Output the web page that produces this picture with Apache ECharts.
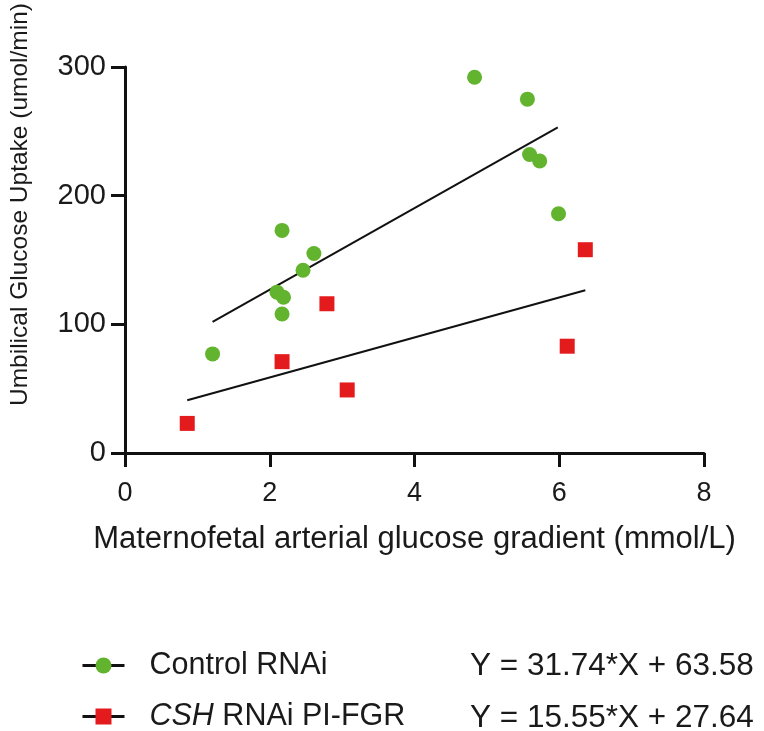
<!DOCTYPE html>
<html>
<head>
<meta charset="utf-8">
<script src="https://cdn.jsdelivr.net/npm/echarts@6/dist/echarts.min.js"></script>
<style>
html,body{margin:0;padding:0;background:#fff;}
#chart{width:764px;height:731px;}
</style>
</head>
<body>
<div id="chart"></div>
<script>
// Data
const controlX = [1.21, 2.17, 2.61, 2.46, 2.10, 2.19, 2.17, 4.83, 5.56, 5.59, 5.73, 5.99];
const controlY = [77, 173, 155, 142, 125, 121, 108, 292, 275, 232, 227, 186];
const cshX = [0.86, 2.17, 2.79, 3.07, 6.36, 6.11];
const cshY = [23, 71, 116, 49, 158, 83];
// Regression line endpoints as drawn
const controlFitX = [1.21, 5.98];
const controlFitY = [102, 253];
const cshFitX = [0.86, 6.36];
const cshFitY = [41, 126.5];
// Legend texts
const seriesNames = ['Control RNAi', 'CSH RNAi PI-FGR'];
const equations = ['Y = 31.74*X + 63.58', 'Y = 15.55*X + 27.64'];
const xTicks = [0, 2, 4, 6, 8];
const yTicks = [0, 100, 200, 300];

const FONT = 'Liberation Sans, Arial, sans-serif';
const GREEN = '#62b32e';
const RED = '#e41b1d';
const TXT = '#1a1a1a';

const zip = (a, b) => a.map((v, i) => [v, b[i]]);

const chart = echarts.init(document.getElementById('chart'));
chart.setOption({
  animation: false,
  backgroundColor: '#fff',
  textStyle: { fontFamily: FONT },
  grid: { left: 123, right: 60, top: 64, bottom: 278, containLabel: false },
  xAxis: {
    type: 'value', min: xTicks[0], max: xTicks[xTicks.length - 1], interval: 2,
    name: 'Maternofetal arterial glucose gradient (mmol/L)',
    nameLocation: 'middle', nameGap: 71,
    nameTextStyle: { fontSize: 31, color: TXT, fontFamily: FONT },
    axisLine: { lineStyle: { color: '#111', width: 3 } },
    axisTick: { length: 14, lineStyle: { color: '#111', width: 3 } },
    axisLabel: { fontSize: 27, color: TXT, margin: 27, fontFamily: FONT },
    splitLine: { show: false }
  },
  yAxis: {
    type: 'value', min: yTicks[0], max: yTicks[yTicks.length - 1], interval: 100,
    name: 'Umbilical Glucose Uptake (umol/min)',
    nameLocation: 'middle', nameGap: 92, nameRotate: 90,
    nameTextStyle: { fontSize: 24.5, color: TXT, fontFamily: FONT, padding: [0, 0, 0, 111] },
    axisLine: { show: true, lineStyle: { color: '#111', width: 3 } },
    axisTick: { show: true, length: 14, lineStyle: { color: '#111', width: 3 } },
    axisLabel: { fontSize: 29, color: TXT, margin: 19, fontFamily: FONT },
    splitLine: { show: false }
  },
  legend: [
    {
      orient: 'vertical', left: 81, top: 650, itemGap: 20, padding: 0,
      width: 360, height: 120,
      itemWidth: 42, itemHeight: 20,
      data: seriesNames,
      lineStyle: { width: 3, color: '#111' },
      textStyle: {
        fontSize: 30.5, lineHeight: 30, color: TXT, fontFamily: FONT,
        rich: {
          sp: { fontSize: 30, lineHeight: 30, width: 20 },
          it: { fontSize: 30.5, lineHeight: 30, fontStyle: 'italic', color: TXT, fontFamily: FONT },
          n: { fontSize: 30.5, lineHeight: 30, color: TXT, fontFamily: FONT }
        }
      },
      formatter: function (name) {
        if (name.indexOf('CSH') === 0) {
          return '{sp| }{it|CSH}{n| ' + name.slice(4) + '}';
        }
        return '{sp| }{n|' + name + '}';
      }
    },
    {
      orient: 'vertical', left: 465, top: 650, itemGap: 20, padding: 0,
      width: 299, height: 120,
      itemWidth: 0, itemHeight: 20, icon: 'none',
      data: seriesNames,
      selectedMode: false,
      textStyle: { fontSize: 31.5, lineHeight: 30, color: TXT, fontFamily: FONT },
      formatter: function (name) {
        return equations[seriesNames.indexOf(name)];
      }
    }
  ],
  series: [
    {
      name: seriesNames[0], type: 'line', data: zip(controlFitX, controlFitY),
      symbol: 'circle', symbolSize: 15, showSymbol: false,
      lineStyle: { color: '#111', width: 2 }, itemStyle: { color: GREEN },
      z: 1, silent: true
    },
    {
      name: seriesNames[1], type: 'line', data: zip(cshFitX, cshFitY),
      symbol: 'rect', symbolSize: 15, showSymbol: false,
      lineStyle: { color: '#111', width: 2 }, itemStyle: { color: RED },
      z: 1, silent: true
    },
    {
      name: 'control-points', type: 'scatter', data: zip(controlX, controlY),
      symbol: 'circle', symbolSize: 15, itemStyle: { color: GREEN, opacity: 1 }, z: 3
    },
    {
      name: 'csh-points', type: 'scatter', data: zip(cshX, cshY),
      symbol: 'rect', symbolSize: 15, itemStyle: { color: RED, opacity: 1 }, z: 3
    }
  ]
});
</script>
</body>
</html>
